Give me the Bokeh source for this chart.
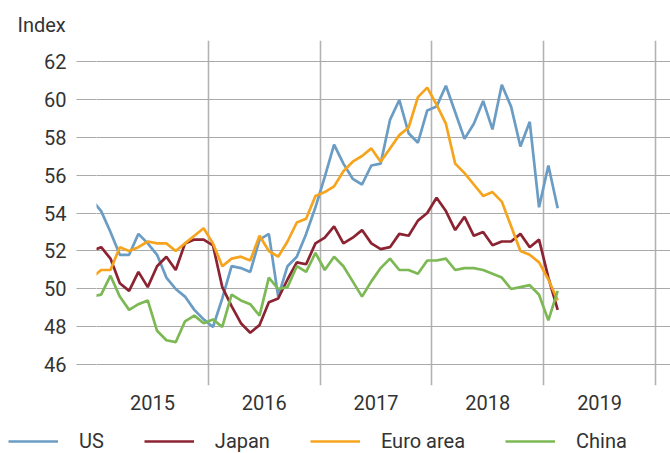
import pandas as pd
from bokeh.plotting import figure
from bokeh.layouts import column, row
from bokeh.models import (Range1d, FixedTicker, Legend, LegendItem, Title,
                          ColumnDataSource)
from bokeh.embed import file_html
from bokeh.resources import INLINE

# Monthly data, Dec 2014 .. Feb 2019 (Dec 2014 is clipped at the left edge)
months = pd.date_range("2014-12-01", periods=51, freq="MS")

us = [54.7, 54.1, 53.0, 51.8, 51.8, 52.9, 52.4, 51.8, 50.6, 50.0, 49.6, 48.9, 48.4,
      48.0, 49.5, 51.2, 51.1, 50.9, 52.6, 52.9, 49.6, 51.2, 51.7, 52.9, 54.3,
      55.9, 57.6, 56.6, 55.8, 55.5, 56.5, 56.6, 58.9, 59.95, 58.2, 57.7, 59.4,
      59.6, 60.7, 59.3, 57.9, 58.7, 59.9, 58.4, 60.75, 59.6, 57.5, 58.8, 54.3,
      56.5, 54.25]
japan = [52.0, 52.2, 51.6, 50.3, 49.9, 50.9, 50.1, 51.2, 51.7, 51.0, 52.4, 52.6, 52.6,
         52.3, 50.1, 49.1, 48.2, 47.7, 48.1, 49.3, 49.5, 50.5, 51.4, 51.3, 52.4,
         52.7, 53.3, 52.4, 52.7, 53.1, 52.4, 52.1, 52.2, 52.9, 52.8, 53.6, 54.0,
         54.8, 54.1, 53.1, 53.8, 52.8, 53.0, 52.3, 52.5, 52.5, 52.9, 52.2, 52.6,
         50.6, 48.9]
euro = [50.6, 51.0, 51.0, 52.2, 52.0, 52.2, 52.5, 52.4, 52.4, 52.0, 52.4, 52.8, 53.2,
        52.4, 51.2, 51.6, 51.7, 51.5, 52.8, 52.0, 51.7, 52.5, 53.5, 53.7, 54.9,
        55.1, 55.4, 56.2, 56.7, 57.0, 57.4, 56.7, 57.4, 58.1, 58.5, 60.1, 60.6,
        59.7, 58.7, 56.6, 56.1, 55.5, 54.9, 55.1, 54.6, 53.3, 52.0, 51.8, 51.4,
        50.5, 49.4]
china = [49.6, 49.7, 50.7, 49.6, 48.9, 49.2, 49.4, 47.8, 47.3, 47.2, 48.3, 48.6, 48.2,
         48.4, 48.0, 49.7, 49.4, 49.2, 48.6, 50.6, 50.0, 50.1, 51.2, 50.9, 51.9,
         51.0, 51.7, 51.2, 50.4, 49.6, 50.4, 51.1, 51.6, 51.0, 51.0, 50.8, 51.5,
         51.5, 51.6, 51.0, 51.1, 51.1, 51.0, 50.8, 50.6, 50.0, 50.1, 50.2, 49.7,
         48.35, 49.9]

series_names = ["US", "Japan", "Euro area", "China"]
series_cols = ["us", "japan", "euro", "china"]
series_colors = ["#6a9cc4", "#8c2332", "#f6a41e", "#7cb955"]

years = [2015, 2016, 2017, 2018, 2019]
year_bounds = [2015, 2016, 2017, 2018, 2019, 2020]
y_ticks = [46, 48, 50, 52, 54, 56, 58, 60, 62]

FONT = "Roboto"
TXT = "#333333"
GRID = "#a9a9a9"

x = [m.year + (m.month - 0.5) / 12 for m in months]
src = ColumnDataSource(dict(x=x, us=us, japan=japan, euro=euro, china=china))

p = figure(width=670, height=420, output_backend="svg", toolbar_location=None,
           x_range=Range1d(2015, 2020.134), y_range=Range1d(44.92, 63.08),
           min_border_left=96, min_border_right=0, min_border_top=40,
           min_border_bottom=35)
p.outline_line_color = None
p.background_fill_color = "white"
p.border_fill_color = "white"

# x axis: labels centred between year boundaries
xa = p.xaxis[0]
xa.ticker = FixedTicker(ticks=[y + 0.5 for y in years])
xa.major_label_overrides = {y + 0.5: str(y) for y in years}
xa.axis_line_color = None
xa.major_tick_line_color = None
xa.minor_tick_line_color = None
xa.major_tick_out = 0
xa.major_tick_in = 0
xa.major_label_standoff = 9
xa.major_label_text_font = FONT
xa.major_label_text_font_size = "20px"
xa.major_label_text_color = TXT

ya = p.yaxis[0]
ya.ticker = FixedTicker(ticks=y_ticks)
ya.axis_line_color = None
ya.major_tick_line_color = GRID
ya.major_tick_out = 20
ya.major_tick_in = 0
ya.minor_tick_line_color = None
ya.major_label_standoff = 10
ya.major_label_text_font = FONT
ya.major_label_text_font_size = "20px"
ya.major_label_text_color = TXT

p.xgrid.ticker = FixedTicker(ticks=year_bounds)
p.xgrid.grid_line_color = "#b3b3b3"
p.xgrid.grid_line_width = 1.6
p.ygrid.grid_line_color = GRID
p.ygrid.grid_line_width = 1

for col, color in zip(series_cols, series_colors):
    p.line("x", col, source=src, line_color=color, line_width=2.7)

p.add_layout(Title(text="Index", align="left", offset=-79, vertical_align="bottom",
                   standoff=8, text_font=FONT, text_font_size="20px",
                   text_font_style="normal", text_color=TXT), "above")

# legend strip below the chart
lg = figure(width=670, height=33, output_backend="svg", toolbar_location=None,
            x_range=Range1d(0, 1), y_range=Range1d(0, 1),
            x_axis_location=None, y_axis_location=None,
            min_border_left=0, min_border_right=0, min_border_top=0,
            min_border_bottom=0)
lg.outline_line_color = None
lg.xgrid.visible = False
lg.ygrid.visible = False
swatches = [lg.line("x", col, source=src, line_color=c, line_width=2.7, visible=False)
            for col, c in zip(series_cols, series_colors)]
legend = Legend(items=[LegendItem(label=n, renderers=[r]) for n, r in zip(series_names, swatches)],
                orientation="horizontal", location=(8, 0),
                glyph_width=50, glyph_height=16, label_height=16,
                label_standoff=21, spacing=40, padding=0, margin=0,
                border_line_color=None, background_fill_alpha=0,
                label_text_font=FONT, label_text_font_size="20px",
                label_text_color=TXT)
lg.add_layout(legend, "center")

layout = column(p, row(lg), spacing=0)
open("out.html", "w").write(file_html(layout, INLINE))
